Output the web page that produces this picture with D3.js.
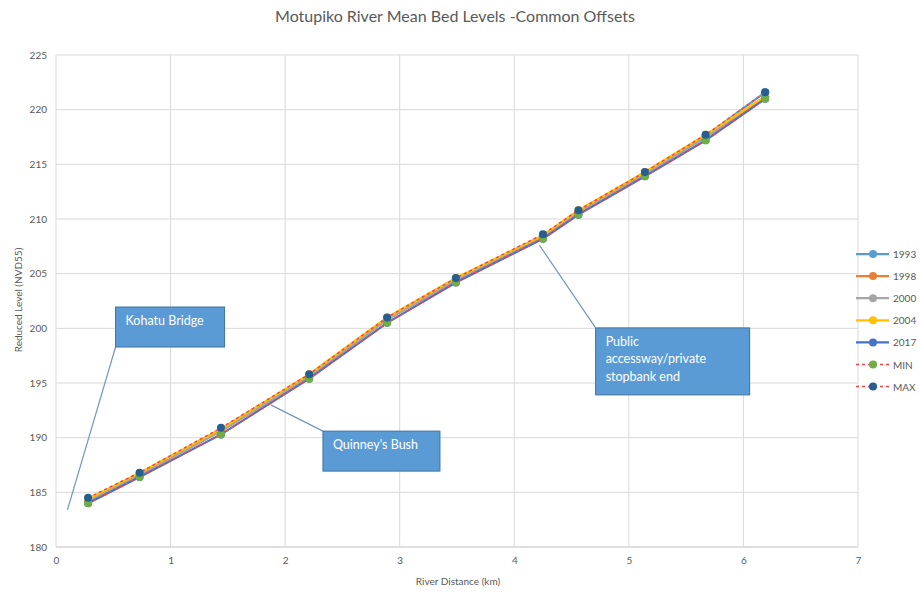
<!DOCTYPE html>
<html>
<head>
<meta charset="utf-8">
<script src="https://cdn.jsdelivr.net/npm/d3@7"></script>
<style>
  body { margin: 0; background: #fff; }
  text { font-family: Lato, "Open Sans", sans-serif; }
</style>
</head>
<body>
<div id="chart"></div>
<script>
// river distance (km) of each common offset
const distances = [0.28, 0.73, 1.44, 2.21, 2.89, 3.49, 4.25, 4.56, 5.14, 5.67, 6.19];
// mean bed levels per survey
const levels_1993 = [184.4, 186.7, 190.8, 195.7, 200.9, 204.5, 208.5, 210.7, 214.2, 217.6, 221.6];
const levels_1998 = [184.2, 186.6, 190.6, 195.6, 200.8, 204.4, 208.4, 210.6, 214.1, 217.5, 221.2];
const levels_2000 = [184.2, 186.6, 190.6, 195.6, 200.8, 204.4, 208.4, 210.6, 214.1, 217.5, 221.2];
const levels_2004 = [184.4, 186.8, 190.8, 195.8, 201.0, 204.6, 208.5, 210.8, 214.3, 217.7, 221.2];
const levels_2017 = [184.0, 186.4, 190.3, 195.4, 200.5, 204.2, 208.2, 210.4, 213.9, 217.2, 221.0];
const levels_min  = [184.0, 186.4, 190.3, 195.4, 200.5, 204.2, 208.2, 210.4, 213.9, 217.2, 221.0];
const levels_max  = [184.5, 186.8, 190.9, 195.8, 201.0, 204.6, 208.6, 210.8, 214.3, 217.7, 221.6];
const seriesNames = ["1993", "1998", "2000", "2004", "2017", "MIN", "MAX"];
const xTicks = [0, 1, 2, 3, 4, 5, 6, 7];
const yTicks = [180, 185, 190, 195, 200, 205, 210, 215, 220, 225];

const width = 920, height = 594;
const plotLeft = 56, plotRight = 858, plotTop = 55, plotBottom = 547;

const styles = {
    "1993": { line: "#5B9BD5", dot: "#5B9BD5", dash: null, w: 2.25 },
    "1998": { line: "#ED7D31", dot: "#ED7D31", dash: null, w: 2.25 },
    "2000": { line: "#A5A5A5", dot: "#A5A5A5", dash: null, w: 2.25 },
    "2004": { line: "#FFC000", dot: "#FFC000", dash: null, w: 2.25 },
    "2017": { line: "#4472C4", dot: "#4472C4", dash: null, w: 2.25 },
    "MIN":  { line: "#F0484A", dot: "#70AD47", dash: "3,3", w: 1.5 },
    "MAX":  { line: "#F0484A", dot: "#255E91", dash: "3,3", w: 1.5 }
};

const allLevels = [levels_1993, levels_1998, levels_2000, levels_2004, levels_2017, levels_min, levels_max];
const slices = seriesNames.map(function (id, i) {
    return {
        id: id,
        values: distances.map(function (d, j) {
            return { dist: d, level: allLevels[i][j] };
        })
    };
});

const svg = d3.select("#chart").append("svg")
    .attr("width", width)
    .attr("height", height);

const xScale = d3.scaleLinear().domain([0, 7]).range([plotLeft, plotRight]);
const yScale = d3.scaleLinear().domain([180, 225]).range([plotBottom, plotTop]);

// gridlines
svg.append("g").selectAll("line")
    .data(yTicks)
    .enter().append("line")
    .attr("x1", plotLeft).attr("x2", plotRight)
    .attr("y1", function (d) { return yScale(d); })
    .attr("y2", function (d) { return yScale(d); })
    .attr("stroke", function (d) { return d === 180 ? "#BFBFBF" : "#D9D9D9"; })
    .attr("stroke-width", 1);

svg.append("g").selectAll("line")
    .data(xTicks)
    .enter().append("line")
    .attr("y1", plotTop).attr("y2", plotBottom)
    .attr("x1", function (d) { return xScale(d); })
    .attr("x2", function (d) { return xScale(d); })
    .attr("stroke", "#D9D9D9")
    .attr("stroke-width", 1);

// axes (labels only, Excel style)
const xaxis = d3.axisBottom(xScale).tickValues(xTicks).tickFormat(d3.format("d")).tickSize(0).tickPadding(10);
const yaxis = d3.axisLeft(yScale).tickValues(yTicks).tickFormat(d3.format("d")).tickSize(0).tickPadding(9);

svg.append("g")
    .attr("transform", "translate(0," + plotBottom + ")")
    .call(xaxis)
    .call(function (g) { g.select(".domain").remove(); })
    .selectAll("text")
    .attr("fill", "#595959")
    .style("font-size", "10px");

svg.append("g")
    .attr("transform", "translate(" + plotLeft + ",0)")
    .call(yaxis)
    .call(function (g) { g.select(".domain").remove(); })
    .selectAll("text")
    .attr("fill", "#595959")
    .style("font-size", "10px");

// titles
svg.append("text")
    .attr("x", 455).attr("y", 22)
    .attr("text-anchor", "middle")
    .attr("fill", "#595959")
    .style("font-size", "16px")
    .text("Motupiko River Mean Bed Levels -Common Offsets");

svg.append("text")
    .attr("x", 458).attr("y", 585)
    .attr("text-anchor", "middle")
    .attr("fill", "#595959")
    .style("font-size", "10px")
    .text("River Distance (km)");

svg.append("text")
    .attr("transform", "translate(22,300) rotate(-90)")
    .attr("text-anchor", "middle")
    .attr("fill", "#595959")
    .style("font-size", "10px")
    .text("Reduced Level (NVD55)");

// series
const line = d3.line()
    .x(function (d) { return xScale(d.dist); })
    .y(function (d) { return yScale(d.level); });

const lines = svg.selectAll(".series")
    .data(slices)
    .enter()
    .append("g")
    .attr("class", "series");

lines.append("path")
    .attr("d", function (d) { return line(d.values); })
    .attr("fill", "none")
    .attr("stroke", function (d) { return styles[d.id].line; })
    .attr("stroke-width", function (d) { return styles[d.id].w; })
    .attr("stroke-dasharray", function (d) { return styles[d.id].dash; });

lines.selectAll("circle")
    .data(function (d) { return d.values.map(function (v) { return { id: d.id, v: v }; }); })
    .enter().append("circle")
    .attr("cx", function (d) { return xScale(d.v.dist); })
    .attr("cy", function (d) { return yScale(d.v.level); })
    .attr("r", 4)
    .attr("fill", function (d) { return styles[d.id].dot; });

// annotations (anchored in data units)
const notes = [
    { text: ["Kohatu Bridge"], km: 0.52, lvl: 201.95, w: 109, h: 40, from: "bl", to: [0.10, 183.4] },
    { text: ["Quinney's Bush"], km: 2.33, lvl: 190.6, w: 117, h: 40, from: "tl", to: [1.875, 193.0] },
    { text: ["Public", "accessway/private", "stopbank end"], km: 4.71, lvl: 200.04, w: 154, h: 67, from: "tl", to: [4.22, 207.6] }
];

const noteG = svg.selectAll(".note")
    .data(notes)
    .enter().append("g")
    .attr("class", "note");

noteG.append("line")
    .attr("x1", function (d) { return xScale(d.km); })
    .attr("y1", function (d) { return d.from === "bl" ? yScale(d.lvl) + d.h : yScale(d.lvl); })
    .attr("x2", function (d) { return xScale(d.to[0]); })
    .attr("y2", function (d) { return yScale(d.to[1]); })
    .attr("stroke", "#7197BE")
    .attr("stroke-width", 1.2);

noteG.append("rect")
    .attr("x", function (d) { return xScale(d.km); })
    .attr("y", function (d) { return yScale(d.lvl); })
    .attr("width", function (d) { return d.w; })
    .attr("height", function (d) { return d.h; })
    .attr("fill", "#5B9BD5")
    .attr("stroke", "#41719C")
    .attr("stroke-width", 1);

noteG.each(function (d) {
    const g = d3.select(this);
    d.text.forEach(function (t, i) {
        g.append("text")
            .attr("x", xScale(d.km) + 10)
            .attr("y", yScale(d.lvl) + 18 + i * 17.5)
            .attr("fill", "#fff")
            .style("font-size", "12.5px")
            .text(t);
    });
});

// legend
const legend = svg.selectAll(".legend")
    .data(seriesNames)
    .enter().append("g")
    .attr("class", "legend")
    .attr("transform", function (d, i) { return "translate(856," + (254 + i * 22.1) + ")"; });

legend.append("line")
    .attr("x1", 0).attr("x2", 33)
    .attr("stroke", function (d) { return styles[d].line; })
    .attr("stroke-width", function (d) { return styles[d].w; })
    .attr("stroke-dasharray", function (d) { return styles[d].dash; });

legend.append("circle")
    .attr("cx", 17).attr("r", 4)
    .attr("fill", function (d) { return styles[d].dot; });

legend.append("text")
    .attr("x", 37).attr("y", 4)
    .attr("fill", "#595959")
    .style("font-size", "10px")
    .text(function (d) { return d; });
</script>
</body>
</html>
